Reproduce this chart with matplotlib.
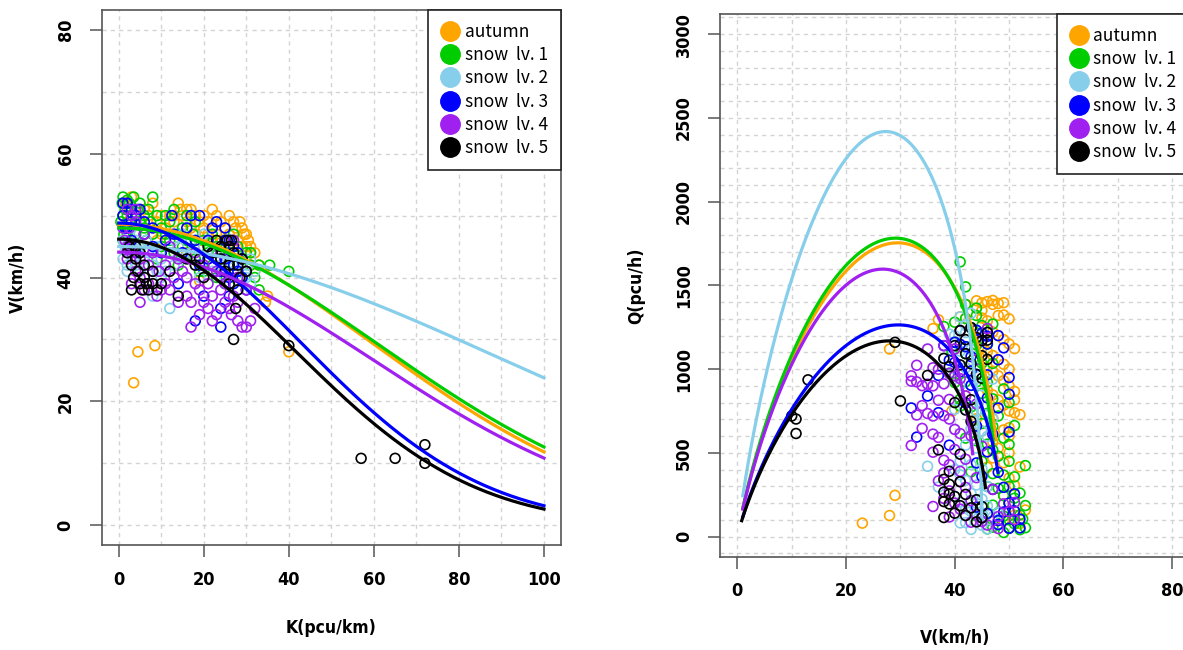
import numpy as np
import matplotlib
matplotlib.use("Agg")
import matplotlib.pyplot as plt
from matplotlib.lines import Line2D
from matplotlib.ticker import MultipleLocator

# regimes, legend labels and colours
regimes = ["autumn", "snow  lv. 1", "snow  lv. 2", "snow  lv. 3", "snow  lv. 4", "snow  lv. 5"]
colors = ["#FFA500", "#00CD00", "#87CEEB", "#0000FF", "#A020F0", "#000000"]

# fitted speed-density model per regime: free-flow speed (km/h), critical density (pcu/km)
free_speed = [48.6, 48.0, 45.0, 48.8, 44.1, 46.2]
crit_density = [59.5, 61.2, 88.6, 42.7, 59.7, 41.7]
# speed range over which the flow-speed curve is drawn
v_start = [1.0, 1.0, 1.0, 1.0, 1.0, 0.8]
v_end = [47.6, 47.1, 44.98, 47.95, 43.3, 45.66]

# observations: density K (pcu/km) and speed V (km/h)
autumn_k = [1.5, 2.5, 3, 4, 5, 6, 7, 8, 9, 10, 11, 12, 13, 14, 14.5, 15, 16, 17, 18, 19,
            20, 21, 22, 23, 24, 25, 26, 27, 27.5, 28, 28.5, 29, 29.5, 30, 30.5, 31, 32, 33,
            35, 34.5, 20, 16, 22, 25, 26, 29, 31, 32, 18, 12, 9, 6, 3, 3.5, 4.5, 8.5, 40,
            28, 24, 19, 2, 1, 10, 13, 15, 17, 19, 21, 23, 24, 26, 27, 29, 30, 31, 17, 20,
            16, 14, 22]
autumn_v = [52, 51, 53, 50, 49, 51, 50, 52, 49, 50, 48, 50, 49, 52, 51, 50, 49, 48, 50, 49,
            48, 47, 48, 47, 46, 48, 47, 49, 48, 46, 49, 48, 47, 45, 46, 44, 44, 42,
            37, 36, 50, 51, 46, 45, 44, 43, 42, 41, 47, 47, 46, 47, 46, 23, 28, 29, 28,
            40, 42, 39.5, 49, 50, 47, 50, 47, 51, 46, 49, 50, 49, 50, 46, 45, 47, 45, 46,
            42, 44, 45, 51]

lv1_k = [0.8, 1, 1.5, 2, 2, 2.5, 3, 3, 4, 4, 5, 5, 6, 6.5, 7, 7.5, 8, 9, 10, 10, 11, 12,
         12, 13, 14, 15, 15, 16, 17, 17.5, 18, 19, 20, 21, 22, 22, 23, 24, 25, 26, 27, 27,
         28, 29, 30, 30, 31, 32, 33, 33, 35.5, 40, 9, 5, 3, 14, 19, 24, 1.2, 2.8, 25, 28,
         16, 8, 0.5, 1, 1.5, 2, 1, 2.5, 3.5, 4.5, 6, 11, 13, 18, 20, 23, 26, 29, 31, 3]
lv1_v = [52, 53, 51, 50, 52.5, 49, 51, 48, 50, 47, 49, 52, 48, 46, 51, 49, 47, 50, 48, 45,
         47, 46, 49, 44, 47, 48, 45, 46, 44, 47, 43, 45, 46, 44, 47, 42, 45, 43, 46, 44,
         42, 47, 45, 43, 41, 44, 42, 40, 42, 38, 42, 41, 43, 44, 45, 42, 41, 40, 47, 44,
         39, 39.5, 50, 53, 49, 46, 48, 47, 50, 52, 53, 51, 50, 50, 51, 49, 41, 40, 42, 40,
         44, 50]

lv2_k = [1, 1.5, 2, 2.5, 3, 3.5, 4, 4.5, 5, 6, 6.5, 7, 8, 8, 9, 10, 11, 12, 12, 13, 14, 15,
         16, 17, 18, 19, 20, 21, 22, 23, 24, 25, 26, 27, 28, 29, 30, 31, 2, 5, 10, 15, 20,
         26, 28, 31, 1, 2, 3, 1.5, 4, 6, 9, 13, 17, 21, 24, 27, 30, 32]
lv2_v = [46, 45, 44, 47, 45, 43, 46, 44, 45, 43, 46, 44, 42, 37, 45, 43, 41, 35, 44, 42, 45,
         43, 40, 44, 42, 40, 45, 43, 41, 44, 42, 40, 43, 41, 44, 42, 40, 43, 42, 41, 40,
         47, 47, 46, 38, 39, 43, 41, 48, 48, 42, 40, 41, 46, 46, 46, 45, 44, 42, 41]

lv3_k = [1, 2, 3, 4, 5, 3, 12.5, 23, 16, 18, 22, 24, 25, 26, 27, 27, 28, 20, 18, 24, 14, 21,
         25, 26, 29, 6, 8, 10, 13, 15, 19, 28, 3, 1.5, 26, 22, 25, 19, 1, 2, 2.5, 4, 6, 8,
         11, 17, 21, 23, 27, 29, 30, 24]
lv3_v = [50, 52, 51, 50, 51, 49, 50, 49, 48, 46, 44, 41, 43, 40, 42, 39, 41, 37, 33, 32, 39,
         43, 46, 37, 40, 47, 45, 44, 47, 44, 42, 44, 46, 48, 46, 48, 48, 50, 52, 48, 45,
         44, 49, 48, 46, 50, 46, 43, 45, 43, 38, 35]

lv4_k = [2, 3, 2.5, 4, 1.5, 2, 3, 4, 5, 5, 6, 7, 8, 9, 9.5, 10, 11, 12, 13, 14, 15, 16, 17,
         18, 19, 20, 21, 22, 23, 24, 25, 26, 26.5, 27, 28, 29, 30, 31, 32, 20, 24, 27, 18,
         12, 8, 28, 30, 23, 26, 25, 17, 22, 1, 2, 3, 5, 7, 11, 14, 16, 19, 21, 24, 28, 30,
         4, 6]
lv4_v = [51, 50, 48, 49, 46, 43, 39, 41, 40, 36, 38, 39, 41, 37, 41, 38, 39, 38, 40, 36, 41,
         37, 36, 39, 34, 36, 39, 37, 34, 38, 36, 35, 34, 37, 33, 32, 32, 33, 35, 42, 44,
         46, 44, 45, 44, 40, 41, 41, 45, 39, 32, 33, 48, 45, 44, 43, 42, 42, 43, 40, 38,
         35, 40, 36, 38, 51, 47]

lv5_k = [2, 3, 3.5, 4, 4.5, 5, 5.5, 6, 6.5, 7, 8, 9, 10, 14, 18, 19, 20, 22, 23, 24, 25,
         25.5, 26, 26.5, 27, 27.5, 28, 28.5, 27, 40, 57, 65, 72, 72, 12, 16, 29, 26, 2.5,
         4, 5, 6, 8, 21, 24, 26, 28, 30, 3]
lv5_v = [44, 42, 40, 43, 41, 39, 38, 40, 39, 38, 39, 38, 39, 37, 42, 43, 40, 44, 46, 43, 41,
         46, 42, 46, 44, 35, 38, 40, 30, 29, 10.8, 10.8, 13, 10, 41, 43, 43, 39, 45, 45,
         44, 42, 41, 45, 45, 45, 42, 41, 38]

density_obs = [autumn_k, lv1_k, lv2_k, lv3_k, lv4_k, lv5_k]
speed_obs = [autumn_v, lv1_v, lv2_v, lv3_v, lv4_v, lv5_v]

tick_font = {"family": "DejaVu Sans", "weight": "bold", "stretch": "condensed", "size": 13}
label_font = {"family": "DejaVu Sans", "weight": "bold", "stretch": "condensed", "size": 12.5}
legend_font = ["Noto Sans CJK JP", "DejaVu Sans"]
frame_gray = "#555555"
grid_gray = "#d3d3d3"


def style_axes(ax, xmax, ymax, xgrid, ygrid, xstep, ystep):
    ax.set_xlim(-0.04 * xmax, 1.04 * xmax)
    ax.set_ylim(-0.04 * ymax, 1.04 * ymax)
    ax.xaxis.set_minor_locator(MultipleLocator(xgrid))
    ax.yaxis.set_minor_locator(MultipleLocator(ygrid))
    ax.set_xticks([t for t in np.arange(0, xmax + 1, xstep)])
    ax.set_yticks([t for t in np.arange(0, ymax + 1, ystep)])
    ax.grid(which="both", color=grid_gray, linestyle=(0, (3, 3)), linewidth=1.0, zorder=0)
    ax.set_axisbelow(True)
    ax.tick_params(which="minor", length=0)
    ax.tick_params(which="major", length=8.5, width=1.1, color=frame_gray, pad=10)
    ax.tick_params(axis="y", which="major", pad=11)
    for s in ax.spines.values():
        s.set_color(frame_gray)
        s.set_linewidth(1.2)
    for lab in ax.get_xticklabels() + ax.get_yticklabels():
        lab.set_fontproperties(tick_font)
    for lab in ax.get_yticklabels():
        lab.set_rotation(90)
        lab.set_verticalalignment("center")


def set_labels(ax, xlabel, ylabel, xpos, ypos):
    ax.set_xlabel(xlabel, fontdict=label_font, va="center")
    ax.set_ylabel(ylabel, fontdict=label_font, va="center")
    ax.xaxis.set_label_coords(0.5, xpos)
    ax.yaxis.set_label_coords(ypos, 0.5)


def add_legend(ax):
    handles = [Line2D([], [], marker="o", linestyle="none", markersize=14,
                      markerfacecolor=c, markeredgecolor=c) for c in colors]
    leg = ax.legend(handles, regimes, loc="upper right", borderaxespad=0,
                    fancybox=False, framealpha=1, edgecolor="#222222",
                    handlelength=1.0, handletextpad=0.35, borderpad=0.75,
                    labelspacing=0.3, prop={"family": legend_font, "size": 12.5})
    leg.get_frame().set_linewidth(1.2)
    leg.set_zorder(10)


fig = plt.figure(figsize=(11.83, 6.5), dpi=100)

# speed against density
ax1 = fig.add_axes([0.0860, 0.1615, 0.3882, 0.8231])
for k, v, c in zip(density_obs, speed_obs, colors):
    ax1.scatter(k, v, s=50, facecolors="none", edgecolors=c, linewidths=1.2, zorder=2)
k_line = np.linspace(0, 100, 300)
for vf, kc, c in zip(free_speed, crit_density, colors):
    ax1.plot(k_line, vf * np.exp(-0.5 * (k_line / kc) ** 2), color=c, lw=2.3, zorder=3)
style_axes(ax1, 100, 80, 10, 10, 20, 20)
set_labels(ax1, "K(pcu/km)", "V(km/h)", -0.155, -0.182)
add_legend(ax1)

# flow against speed
ax2 = fig.add_axes([0.6086, 0.1435, 0.3969, 0.835])
for k, v, c in zip(density_obs, speed_obs, colors):
    flow = np.array(k) * np.array(v)
    ax2.scatter(v, flow, s=50, facecolors="none", edgecolors=c, linewidths=1.2, zorder=2)
for vf, kc, v0, v1, c in zip(free_speed, crit_density, v_start, v_end, colors):
    v_line = np.linspace(v0, v1, 400)
    q_line = v_line * kc * np.sqrt(2 * np.log(vf / v_line))
    ax2.plot(v_line, q_line, color=c, lw=2.3, zorder=3)
style_axes(ax2, 80, 3000, 10, 100, 20, 500)
set_labels(ax2, "V(km/h)", "Q(pcu/h)", -0.15, -0.179)
add_legend(ax2)

fig.savefig("out.png", dpi=100)
